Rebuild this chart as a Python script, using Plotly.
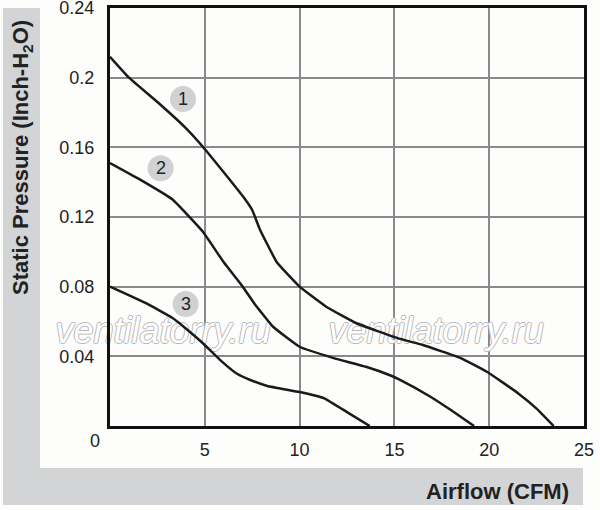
import plotly.graph_objects as go

# P-Q curves (Airflow CFM vs Static Pressure inch-H2O)
flow_1 = [0, 1.0, 2.5, 4.0, 5.0, 6.2, 7.0, 7.5, 7.9, 8.8, 10.0, 11.4, 13.0, 15.3, 16.5, 18.5, 19.9, 21.5, 22.5, 23.4]
pres_1 = [0.212, 0.200, 0.186, 0.171, 0.159, 0.143, 0.132, 0.124, 0.113, 0.094, 0.080, 0.0685, 0.059, 0.050, 0.0465, 0.039, 0.031, 0.019, 0.010, 0.0]

flow_2 = [0, 1.5, 3.3, 4.9, 6.0, 7.0, 7.6, 8.6, 10.0, 11.8, 13.5, 14.8, 15.3, 16.9, 18.0, 19.2]
pres_2 = [0.151, 0.142, 0.130, 0.1115, 0.094, 0.080, 0.0705, 0.057, 0.0455, 0.039, 0.034, 0.029, 0.0265, 0.0168, 0.009, 0.0]

flow_3 = [0, 1.9, 3.3, 4.0, 4.9, 5.8, 6.7, 7.5, 8.3, 10.0, 11.3, 12.5, 13.7]
pres_3 = [0.080, 0.0705, 0.062, 0.056, 0.0475, 0.038, 0.030, 0.026, 0.023, 0.0195, 0.0159, 0.008, 0.0]

curve_labels = ["1", "2", "3"]
label_x = [3.85, 2.67, 3.99]
label_y = [0.1877, 0.148, 0.070]

watermark = "ventilatorry.ru"
watermark_x = [2.8, 17.2]
watermark_y = [0.053, 0.053]

x_ticks = [5, 10, 15, 20, 25]
y_ticks = [0.04, 0.08, 0.12, 0.16, 0.2, 0.24]
y_ticktext = ["0.04", "0.08", "0.12", "0.16", "0.2", "0.24"]

FONT = "Liberation Sans, Arial, sans-serif"
GRAY_BAND = "#d3d4d6"

fig = go.Figure()

# watermark first so the curves are drawn over it
outline = "1px 0 #b8b8b8, -1px 0 #b8b8b8, 0 1px #b8b8b8, 0 -1px #b8b8b8"
fig.add_trace(go.Scatter(
    x=watermark_x, y=watermark_y, mode="text",
    text=[watermark] * len(watermark_x), textposition="middle center",
    textfont=dict(family=FONT, size=36, color="white", style="italic",
                  shadow=outline),
    showlegend=False, hoverinfo="skip", cliponaxis=False,
))

for fx, py in [(flow_1, pres_1), (flow_2, pres_2), (flow_3, pres_3)]:
    fig.add_trace(go.Scatter(
        x=fx, y=py, mode="lines",
        line=dict(color="#1a1a1a", width=2.5, shape="spline", smoothing=0.3),
        showlegend=False, hoverinfo="skip",
    ))

# plot area in pixels: x 110..584, y 8..426 (figure 600x510)
def px(x):
    return (x - 110) / 474.0

def py_(y):
    return (426 - y) / 418.0

shapes = [
    # gray L-shaped band behind the axis titles
    dict(type="rect", xref="paper", yref="paper", layer="below",
         x0=px(3), x1=px(40), y0=py_(505), y1=py_(8),
         fillcolor=GRAY_BAND, line_width=0),
    dict(type="rect", xref="paper", yref="paper", layer="below",
         x0=px(3), x1=px(583), y0=py_(505), y1=py_(468),
         fillcolor=GRAY_BAND, line_width=0),
]
rx, ry = 13 / 18.96, 13 * 0.24 / 418
for lx, ly in zip(label_x, label_y):
    shapes.append(dict(type="circle", xref="x", yref="y",
                       x0=lx - rx, x1=lx + rx, y0=ly - ry, y1=ly + ry,
                       fillcolor="#d0d1d3", line_width=0, layer="below"))

annotations = []
for t, lx, ly in zip(curve_labels, label_x, label_y):
    annotations.append(dict(x=lx, y=ly, text=t, showarrow=False,
                            font=dict(family=FONT, size=18, color="#222")))

annotations += [
    dict(xref="paper", yref="paper", x=px(22), y=py_(158),
         xanchor="center", yanchor="middle",
         text="<b>Static Pressure (Inch-H<sub>2</sub>O)</b>", textangle=-90,
         showarrow=False, font=dict(family=FONT, size=22, color="#222")),
    dict(xref="paper", yref="paper", x=px(571), y=py_(491),
         xanchor="right", yanchor="middle",
         text="<b>Airflow (CFM)</b>", showarrow=False,
         font=dict(family=FONT, size=22, color="#222")),
    dict(xref="paper", yref="paper", x=px(95), y=py_(441),
         xanchor="center", yanchor="middle",
         text="0", showarrow=False,
         font=dict(family=FONT, size=18, color="#222")),
]

fig.update_layout(
    width=600, height=510,
    margin=dict(l=110, r=16, t=8, b=84),
    paper_bgcolor="#fdfdfb", plot_bgcolor="#fdfdfb",
    shapes=shapes, annotations=annotations,
    font=dict(family=FONT, size=18, color="#222"),
)
fig.update_xaxes(
    range=[0, 25], tickvals=x_ticks, showgrid=True, automargin=False,
    gridcolor="#8a8a8a", gridwidth=1.5, zeroline=False,
    showline=True, linecolor="#111", linewidth=3, mirror=True,
    ticks="", ticklabelstandoff=5, ticklabeloverflow="allow",
)
fig.update_yaxes(
    range=[0, 0.24], tickvals=y_ticks, ticktext=y_ticktext, showgrid=True,
    automargin=False,
    gridcolor="#8a8a8a", gridwidth=1.5, zeroline=False,
    showline=True, linecolor="#111", linewidth=3, mirror=True,
    ticks="", ticklabelstandoff=9, ticklabeloverflow="allow",
)

# drop the page's default body margin so the figure sits at the window corner
fig.write_html("out.html", config={"displayModeBar": False},
               post_script="document.body.style.margin='0px';")
